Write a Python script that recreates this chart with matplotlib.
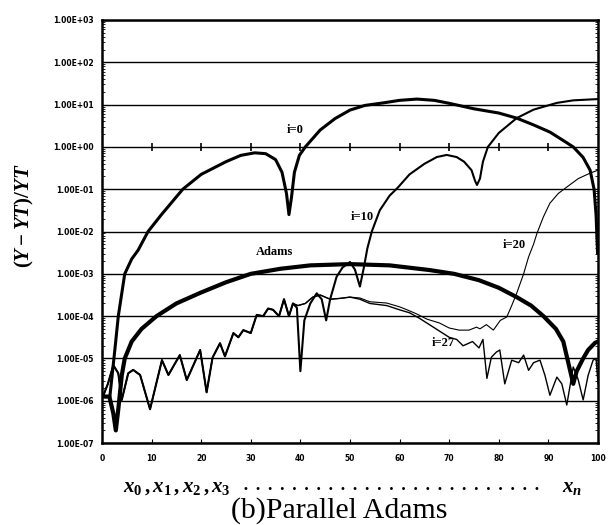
import matplotlib
matplotlib.use("Agg")
import matplotlib.pyplot as plt
from matplotlib.ticker import FixedLocator, FuncFormatter, LogLocator, NullFormatter
import numpy as np

# values, stored as log10 of the relative error
x_adams = [0.3, 1.5, 2.3, 2.8, 3.3, 4.0, 4.6, 6.0, 8.0, 11.0, 15.0, 19.8, 25.0, 30.0, 36.0,
           42.0, 50.0, 58.0, 66.0, 71.0, 76.0, 80.0, 83.6, 86.5, 89.0, 91.5, 93.0, 94.4, 95.0,
           95.7, 97.0, 98.0, 99.4, 100.0]
e_adams = [-5.9, -5.9, -6.3, -6.7, -6.2, -5.4, -5.0, -4.6, -4.3, -4.0, -3.7, -3.45, -3.2, -3.0, -2.88,
           -2.8, -2.77, -2.8, -2.91, -3.0, -3.15, -3.33, -3.55, -3.75, -4.0, -4.3, -4.6, -5.3, -5.6,
           -5.3, -5.0, -4.8, -4.63, -4.6]

x_i0 = [0.3, 1.6, 2.6, 3.3, 4.6, 6.0, 7.3, 9.3, 12.0, 16.3, 20.0, 25.0, 28.0, 30.8, 33.0, 35.0,
        36.3, 37.2, 37.7, 38.2, 38.8, 39.8, 41.0, 44.0, 47.0, 50.0, 53.0, 56.7, 60.0, 63.5, 67.0,
        70.0, 75.0, 80.0, 83.6, 87.0, 90.3, 93.0, 95.0, 97.0, 98.4, 99.2, 99.6, 99.9]
e_i0 = [-5.9, -5.9, -4.8, -4.0, -3.0, -2.65, -2.44, -2.0, -1.6, -1.0, -0.65, -0.35, -0.2, -0.14, -0.16, -0.3,
        -0.6, -1.1, -1.6, -1.2, -0.6, -0.2, 0.0, 0.4, 0.67, 0.87, 0.98, 1.04, 1.1, 1.13, 1.1,
        1.03, 0.9, 0.8, 0.68, 0.52, 0.35, 0.15, 0.0, -0.25, -0.55, -1.0, -1.6, -2.5]

# shared noisy start of i=10, i=20, i=27
x_common = [0.3, 1.2, 2.3, 3.3, 4.0, 5.3, 6.3, 7.7, 9.7, 12.1, 13.4, 15.7, 17.1, 19.8, 21.1, 22.3,
            23.8, 24.8, 26.5, 27.5, 28.5, 30.0, 31.2, 32.5, 33.5, 34.5, 35.7, 36.7, 37.7, 38.5]
e_common = [-5.87, -5.6, -5.16, -5.35, -5.98, -5.35, -5.27, -5.39, -6.2, -5.04, -5.39, -4.92, -5.51, -4.8, -5.8, -4.98,
            -4.64, -4.95, -4.4, -4.5, -4.33, -4.4, -3.97, -4.0, -3.82, -3.85, -4.0, -3.6, -4.0, -3.7]

x_i10 = x_common + [39.3, 40.0, 40.8, 42.0, 43.3, 44.3, 45.2, 46.0, 47.3, 48.5, 50.0, 51.0, 52.0, 52.8,
                    53.5, 54.4, 56.0, 58.0, 59.5, 62.0, 65.0, 67.5, 69.5, 71.5, 73.0, 74.5, 75.2, 75.6,
                    76.2, 76.8, 77.8, 80.0, 83.6, 87.0, 91.7, 95.0, 100.0]
e_i10 = e_common + [-3.8, -5.3, -4.1, -3.7, -3.46, -3.6, -4.1, -3.6, -3.07, -2.85, -2.72, -2.9, -3.3, -2.85,
                    -2.4, -2.0, -1.5, -1.15, -0.98, -0.65, -0.4, -0.24, -0.19, -0.24, -0.35, -0.55, -0.8, -0.9,
                    -0.75, -0.35, 0.0, 0.33, 0.68, 0.88, 1.04, 1.1, 1.13]

x_mid = [39.5, 41.0, 42.5, 44.0, 46.0, 48.0, 50.0]
e_mid = [-3.75, -3.7, -3.55, -3.5, -3.6, -3.58, -3.55]

x_i20 = x_common + x_mid + [52.0, 54.0, 57.4, 60.0, 61.5, 63.5, 65.5, 68.0, 70.0, 72.0, 74.0, 75.5,
                            76.2, 77.5, 78.9, 80.3, 81.6, 82.6, 83.6, 85.0, 86.0, 87.0, 87.7, 89.0,
                            90.3, 92.0, 93.7, 96.0, 98.4, 100.0]
e_i20 = e_common + e_mid + [-3.57, -3.66, -3.69, -3.78, -3.85, -3.95, -4.07, -4.16, -4.28, -4.33, -4.33, -4.26,
                            -4.3, -4.2, -4.33, -4.1, -4.02, -3.75, -3.46, -3.0, -2.6, -2.3, -2.04, -1.65,
                            -1.33, -1.1, -0.95, -0.75, -0.62, -0.55]

x_i27 = x_common + x_mid + [52.0, 54.0, 57.4, 60.0, 62.0, 64.0, 66.0, 68.0, 70.0, 71.5, 72.8, 74.7,
                            76.0, 76.8, 77.6, 78.5, 79.5, 80.2, 81.2, 82.6, 84.0, 85.0, 86.0, 87.0,
                            88.3, 89.3, 90.3, 91.7, 92.7, 93.7, 95.0, 96.0, 97.0, 98.0, 99.0, 99.6, 100.0]
e_i27 = e_common + e_mid + [-3.6, -3.7, -3.75, -3.85, -3.92, -4.05, -4.2, -4.35, -4.5, -4.55, -4.7, -4.6,
                            -4.75, -4.55, -5.47, -4.97, -4.85, -4.8, -5.6, -5.04, -5.1, -4.92, -5.28, -5.1,
                            -5.04, -5.4, -5.87, -5.44, -5.6, -6.1, -5.2, -5.5, -5.98, -5.4, -5.04, -5.0, -5.6]

fig = plt.figure(figsize=(6.14, 5.25), dpi=100)
ax = fig.add_axes([0.166, 0.156, 0.808, 0.806])

ax.plot(x_adams, 10.0 ** np.array(e_adams), color="black", lw=3.0, solid_capstyle="round")
ax.plot(x_i0, 10.0 ** np.array(e_i0), color="black", lw=2.2)
ax.plot(x_i10, 10.0 ** np.array(e_i10), color="black", lw=1.5)
ax.plot(x_i20, 10.0 ** np.array(e_i20), color="black", lw=0.8)
ax.plot(x_i27, 10.0 ** np.array(e_i27), color="black", lw=1.0)

ax.set_yscale("log")
ax.set_xlim(0, 100)
ax.set_ylim(1e-7, 1e3)

ax.yaxis.set_major_locator(LogLocator(base=10, numticks=20))
ax.yaxis.set_major_formatter(FuncFormatter(lambda v, p: "%.2E" % v))
ax.yaxis.set_minor_locator(LogLocator(base=10, subs=np.arange(2, 10), numticks=20))
ax.yaxis.set_minor_formatter(NullFormatter())
ax.xaxis.set_major_locator(FixedLocator(np.arange(0, 101, 10)))

ax.grid(axis="y", which="major", color="black", lw=1.0)
ax.tick_params(axis="y", which="both", direction="in", left=True, right=True, labelsize=5.5)
ax.tick_params(axis="y", which="major", length=0, pad=6)
ax.tick_params(axis="y", which="minor", length=2, width=0.6)
ax.tick_params(axis="x", direction="in", length=3, labelsize=5.5, pad=8)
for lab in ax.get_xticklabels() + ax.get_yticklabels():
    lab.set_fontweight("bold")
for sp in ax.spines.values():
    sp.set_linewidth(1.8)

# Excel style axis crossing at 1.00E+00
sec = ax.secondary_xaxis(0.7)
sec.set_xticks(np.arange(10, 100, 10))
sec.tick_params(direction="inout", length=6, width=1.2, labelbottom=False, labeltop=False)
sec.spines["bottom"].set_visible(False)
sec.spines["top"].set_visible(False)

lab_font = dict(family="Liberation Serif", fontweight="bold", fontsize=9)
ax.text(39, 10 ** 0.4, "i=0", ha="center", va="center", **lab_font)
ax.text(52.4, 10 ** -1.66, "i=10", ha="center", va="center", **lab_font)
ax.text(83.2, 10 ** -2.32, "i=20", ha="center", va="center", **lab_font)
ax.text(34.8, 10 ** -2.48, "Adams", ha="center", va="center", **lab_font)
ax.text(68.8, 10 ** -4.64, "i=27", ha="center", va="center", **lab_font)

plt.rcParams["mathtext.fontset"] = "custom"
plt.rcParams["mathtext.it"] = "Liberation Serif:italic:bold"
plt.rcParams["mathtext.rm"] = "Liberation Serif:bold"

fig.text(0.04, 0.59, r"$(Y-YT)/YT$", rotation=90, ha="center", va="center", fontsize=15)
fig.text(0.20, 0.072, r"$x_0\,,x_1\,,x_2\,,x_3$", ha="left", va="center", fontsize=15)
fig.text(0.637, 0.068, "\u2022  " * 24 + "\u2022", ha="center", va="center", fontsize=7,
         family="DejaVu Sans")
fig.text(0.915, 0.072, r"$x_n$", ha="left", va="center", fontsize=15)
fig.text(0.553, 0.027, "(b)Parallel Adams", ha="center", va="center", fontsize=21.5,
         family="Liberation Serif")

fig.savefig("out.png", dpi=100)
